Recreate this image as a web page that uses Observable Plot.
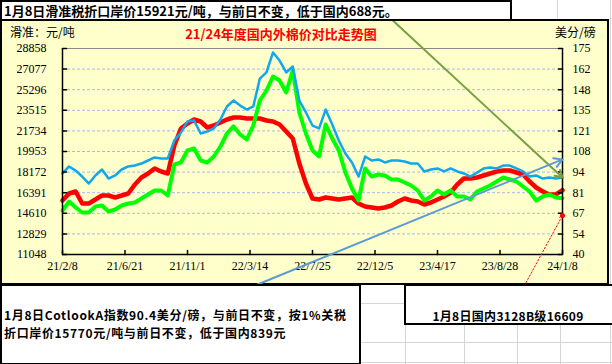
<!DOCTYPE html>
<html><head><meta charset="utf-8">
<script src="https://cdn.jsdelivr.net/npm/d3@7"></script>
<script src="https://cdn.jsdelivr.net/npm/@observablehq/plot@0.6"></script>
<style>
body{margin:0;background:#fff;}
#wrap{position:relative;width:612px;height:364px;overflow:hidden;font-family:"Noto Sans CJK SC","Noto Sans",sans-serif;}
.g{position:absolute;background:#d4d4d4;}
#chartArea{position:absolute;left:0;top:19px;width:605px;height:262px;border:2px solid #000;background:#FFFFCC;}
#plot{position:absolute;left:0;top:0;}
.box{position:absolute;background:#fff;border:2px solid #000;font-weight:bold;color:#000;white-space:nowrap;}
#topBox{left:0;top:0;width:506px;height:17px;line-height:17px;padding-left:2px;font-size:13px;}
#boxL{left:0;top:284px;width:355px;height:57px;padding:20px 0 0 2px;line-height:17.5px;font-size:12px;letter-spacing:0.65px;}
#boxR{left:404px;top:284px;width:210px;height:16px;padding-top:21px;line-height:17.5px;text-align:center;font-size:12px;letter-spacing:0.3px;}
#boxR span{position:relative;left:-3px;}
.lab{position:absolute;font-size:12px;line-height:normal;color:#000;white-space:nowrap;top:23px;}
#title{position:absolute;left:150px;width:262px;top:26px;text-align:center;color:#ff0000;font-weight:bold;font-size:13px;line-height:15px;}
</style></head><body>
<div id="wrap">
  <div class="g" style="left:557px;top:0;width:1px;height:20px"></div>
  <div class="g" style="left:360px;top:303px;width:45px;height:1px"></div>
  <div class="g" style="left:360px;top:342px;width:252px;height:1px"></div>
  <div class="g" style="left:0;top:362px;width:612px;height:1px"></div>
  <div class="g" style="left:405px;top:320px;width:1px;height:44px"></div>
  <div class="g" style="left:464px;top:320px;width:1px;height:44px"></div>
  <div class="g" style="left:517px;top:320px;width:1px;height:44px"></div>
  <div class="g" style="left:560px;top:320px;width:1px;height:44px"></div>
  <div class="g" style="left:610px;top:0;width:1px;height:364px"></div>
  <div id="chartArea"></div>
  <div class="lab" style="left:10px">滑准：元/吨</div>
  <div class="lab" style="left:555px">美分/磅</div>
  <div id="title">21/24年度国内外棉价对比走势图</div>
  <div id="plot"></div>
  <div class="box" id="topBox">1月8日滑准税折口岸价15921元/吨，与前日不变，低于国内688元。</div>
  <div class="box" id="boxL">1月8日CotlookA指数90.4美分/磅，与前日不变，按1%关税<br>折口岸价15770元/吨与前日不变，低于国内839元</div>
  <div class="box" id="boxR"><span>1月8日国内3128B级16609</span></div>
</div>
<script>
// ---- data (biweekly, starting 2021-02-08) ----
const startDate = "2021-02-08";
const stepDays = 14;
// 国内3128B (元/吨, left axis)
const domestic3128B = [15717,16322,16495,15457,15457,15803,16149,16149,15976,16149,
  16322,17100,17705,18051,18484,18224,18051,20472,21942,22374,
  22720,22547,22028,22201,22461,22720,22893,22893,22807,22807,
  22807,22634,22547,22288,21683,21077,18916,17187,15890,15803,
  15976,15890,15803,15890,15976,15457,15198,15112,15025,15112,
  15285,15630,15890,15717,15630,15371,15544,15803,16063,16409,
  17100,17619,17619,17705,17878,18051,18224,18311,18311,18138,
  17965,17360,16841,16495,16236,16236,16609];
// 进口棉折口岸价 (元/吨, left axis)
const importPrice = [14852,15630,15112,14679,14679,15198,15285,14766,14939,15285,
  15457,15544,15890,16236,16581,16581,16149,18829,19002,20040,
  20213,19175,19002,19521,20386,21510,22115,21423,20991,22201,
  24363,25227,26438,26092,25055,26957,23325,21510,20040,19521,
  22288,21077,20040,18138,16754,15717,18484,17792,17965,17878,
  17533,17533,17273,17014,16581,15717,16063,16581,16236,16581,
  16063,16063,15803,16495,16754,17014,17360,17705,17533,17360,
  16927,16495,15717,16063,16236,15976,15921];
// Cotlook A 指数 (美分/磅, right axis)
const cotlookA = [93.1,97.7,95.0,91.1,86.5,91.8,95.7,89.8,91.8,95.7,
  97.7,98.3,99.6,101.6,103.6,102.9,102.9,114.7,119.9,127.2,
  127.8,119.3,120.6,122.6,128.5,137.0,140.9,137.6,135.0,137.0,
  155.3,159.3,172.4,167.1,159.3,163.2,140.9,133.1,124.5,122.6,
  135.0,125.2,114.7,106.2,100.3,91.1,104.2,101.6,102.3,100.3,
  101.6,101.6,100.9,99.6,99.6,94.4,95.7,96.4,94.4,96.4,
  94.4,93.1,91.1,93.7,96.4,97.0,96.4,98.3,98.3,96.4,
  94.4,91.1,91.8,89.8,90.5,89.8,90.4];
const leftTicks = [11048,12829,14610,16391,18172,19953,21734,23515,25296,27077,28858];
const rightTickLabels = [40,54,67,81,94,108,121,135,148,162,175];
const xTickLabels = ["21/2/8","21/6/21","21/11/1","22/3/14","22/7/25","22/12/5","23/4/17","23/8/28","24/1/8"];
// annotation arrows: [date, value] on the given axis
const greenArrow = {from:["2023-01-12",193.3], to:["2024-01-08",90.4], axis:"right"};
const blueArrow  = {from:["2022-03-25",19.7],  to:["2024-01-08",102.3], axis:"right"};
const redArrow   = {from:["2023-10-19",8368],  to:["2024-01-08",14420], axis:"left"};

// ---- build ----
const yMin = leftTicks[0], yMax = leftTicks[leftTicks.length-1];
const rMin = rightTickLabels[0], rMax = rightTickLabels[rightTickLabels.length-1];
const toLeft = c => yMin + (c - rMin) * (yMax - yMin) / (rMax - rMin);
const dates = d3.range(cotlookA.length).map(i => d3.utcDay.offset(new Date(startDate), i*stepDays));
const rows = dates.map((d,i) => ({date:d, red:domestic3128B[i], green:importPrice[i], blue:toLeft(cotlookA[i])}));
const xTicks = xTickLabels.map(s => {const [y,m,d] = s.split("/").map(Number); return new Date(Date.UTC(2000+y, m-1, d));});
const xLabel = new Map(xTicks.map((d,i) => [+d, xTickLabels[i]]));
const rLabel = new Map(leftTicks.map((v,i) => [v, String(rightTickLabels[i])]));
const arr = a => {
  const f = a.axis === "right" ? toLeft : (v => v);
  return {x1:new Date(a.from[0]), y1:f(a.from[1]), x2:new Date(a.to[0]), y2:f(a.to[1])};
};
const tickShape = {draw(ctx, l){ ctx.moveTo(0,0); ctx.lineTo(0,-l); }};
const x0 = xTicks[0], x1 = xTicks[xTicks.length-1];

const chart = Plot.plot({
  width:612, height:364,
  marginLeft:62, marginRight:50, marginTop:48, marginBottom:110,
  x:{type:"utc", domain:[x0, x1]},
  y:{domain:[yMin, yMax]},
  style:{background:"transparent", overflow:"visible", fontFamily:"'Liberation Serif',serif", fontSize:"12px", color:"#000"},
  marks:[
    Plot.ruleY(leftTicks.slice(1,-1), {stroke:"#aab6f2", strokeDasharray:"3,2"}),
    Plot.ruleY([yMax], {stroke:"#888"}),
    Plot.line(rows, {x:"date", y:"red", stroke:"#ff0000", strokeWidth:4.5, strokeLinejoin:"round"}),
    Plot.line(rows, {x:"date", y:"green", stroke:"#00ff00", strokeWidth:4, strokeLinejoin:"round"}),
    Plot.line(rows, {x:"date", y:"blue", stroke:"#0fa8ec", strokeWidth:2.5, strokeLinejoin:"round"}),
    Plot.ruleX([x0, x1], {stroke:"#000", strokeWidth:1.5}),
    Plot.ruleY([yMin], {stroke:"#000", strokeWidth:1.5}),
    Plot.vector(leftTicks, {x:x0, y:d=>d, rotate:90, length:4, anchor:"start", shape:tickShape, stroke:"#000"}),
    Plot.vector(leftTicks, {x:x1, y:d=>d, rotate:-90, length:4, anchor:"start", shape:tickShape, stroke:"#000"}),
    Plot.vector(xTicks, {x:d=>d, y:yMin, rotate:0, length:4, anchor:"start", shape:tickShape, stroke:"#000"}),
    Plot.axisY({anchor:"left", ticks:leftTicks, tickFormat:d=>String(d), tickSize:0, tickPadding:16, label:null}),
    Plot.axisY({anchor:"right", ticks:leftTicks, tickFormat:d=>rLabel.get(d), tickSize:0, tickPadding:10, label:null}),
    Plot.axisX({anchor:"bottom", ticks:xTicks, tickFormat:d=>xLabel.get(+d), tickSize:0, tickPadding:7, label:null}),
    Plot.arrow([arr(greenArrow)], {x1:"x1", y1:"y1", x2:"x2", y2:"y2", stroke:"#76a043", strokeWidth:2, headLength:6}),
    Plot.arrow([arr(blueArrow)], {x1:"x1", y1:"y1", x2:"x2", y2:"y2", stroke:"#5b9bd5", strokeWidth:2, headLength:7}),
    Plot.arrow([arr(redArrow)], {x1:"x1", y1:"y1", x2:"x2", y2:"y2", stroke:"#ff0000", strokeWidth:1, strokeDasharray:"1.5,2", headLength:5}),
    Plot.dot([arr(redArrow)], {x:"x2", y:"y2", r:2.5, fill:"#ff0000"})
  ]
});
document.getElementById("plot").appendChild(chart);
</script>
</body></html>
